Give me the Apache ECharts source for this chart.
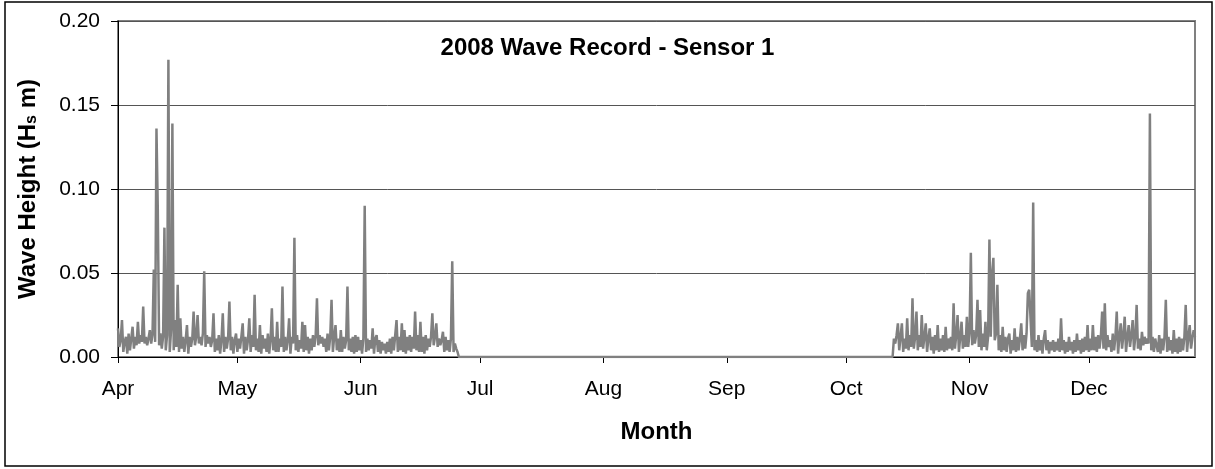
<!DOCTYPE html>
<html>
<head>
<meta charset="utf-8">
<script src="https://cdn.jsdelivr.net/npm/echarts@6/dist/echarts.min.js"></script>
<style>
html,body{margin:0;padding:0;background:#fff;}
#chart{width:1215px;height:469px;}
</style>
</head>
<body>
<div id="chart"></div>
<script>
// ---- data ----
const chartTitle = '2008 Wave Record - Sensor 1';
const monthNames = ['Jan','Feb','Mar','Apr','May','Jun','Jul','Aug','Sep','Oct','Nov','Dec'];
const yTicks = [0, 0.05, 0.10, 0.15, 0.20];
const axisStart = '2008-04-01T00:00:00';
const sampleStepHours = 8;

// Segment 1: samples every 8 h from 1 Apr 2008 (one row = 4 days)
const seg1Start = '2008-04-01T00:00:00';
const seg1Values = [
0.017,0.006,0.010,0.022,0.003,0.009,0.012,0.002,0.014,0.004,0.011,0.018,
0.005,0.012,0.007,0.021,0.008,0.013,0.009,0.030,0.008,0.012,0.007,0.011,
0.016,0.008,0.013,0.052,0.009,0.136,0.088,0.007,0.014,0.005,0.012,0.077,
0.004,0.013,0.177,0.003,0.016,0.139,0.004,0.022,0.006,0.043,0.003,0.023,
0.005,0.012,0.003,0.010,0.019,0.002,0.012,0.006,0.011,0.027,0.007,0.012,
0.025,0.008,0.012,0.007,0.014,0.051,0.006,0.013,0.008,0.012,0.006,0.010,
0.026,0.003,0.011,0.004,0.013,0.002,0.010,0.026,0.003,0.012,0.005,0.011,
0.033,0.004,0.012,0.002,0.010,0.014,0.003,0.011,0.005,0.012,0.020,0.002,
0.012,0.004,0.010,0.023,0.003,0.013,0.006,0.037,0.004,0.011,0.003,0.019,
0.002,0.013,0.005,0.011,0.003,0.014,0.002,0.010,0.029,0.004,0.012,0.003,
0.021,0.003,0.011,0.006,0.042,0.003,0.012,0.004,0.010,0.023,0.002,0.012,
0.008,0.071,0.004,0.013,0.003,0.010,0.005,0.021,0.003,0.019,0.004,0.012,
0.002,0.011,0.004,0.013,0.006,0.012,0.035,0.007,0.013,0.008,0.012,0.006,
0.011,0.003,0.014,0.004,0.012,0.034,0.003,0.012,0.019,0.004,0.011,0.003,
0.016,0.003,0.012,0.005,0.010,0.042,0.004,0.011,0.003,0.012,0.002,0.013,
0.003,0.012,0.004,0.010,0.002,0.011,0.090,0.003,0.011,0.004,0.010,0.005,
0.017,0.002,0.011,0.013,0.003,0.010,0.002,0.009,0.004,0.008,0.002,0.009,
0.003,0.011,0.002,0.012,0.004,0.013,0.022,0.003,0.012,0.004,0.020,0.003,
0.016,0.002,0.012,0.004,0.013,0.003,0.012,0.005,0.027,0.004,0.013,0.003,
0.021,0.003,0.012,0.002,0.013,0.004,0.011,0.006,0.012,0.026,0.007,0.012,
0.020,0.006,0.011,0.007,0.010,0.015,0.003,0.012,0.004,0.010,0.003,0.011,
0.057,0.003,0.008,0.005,0.003
];

// Sensor offline period (recorded as zero)
const gapTimes = ['2008-06-25T16:00:00', '2008-10-12T16:00:00'];
const gapValues = [0, 0];

// Segment 2: samples every 8 h from 13 Oct 2008 (one row = 4 days)
const seg2Start = '2008-10-13T00:00:00';
const seg2Values = [
0.011,0.008,0.013,0.020,0.004,0.012,0.020,0.003,0.011,0.005,0.023,0.004,
0.013,0.006,0.035,0.005,0.012,0.027,0.004,0.013,0.006,0.025,0.005,0.012,
0.020,0.003,0.011,0.017,0.004,0.012,0.002,0.013,0.004,0.019,0.003,0.011,
0.004,0.013,0.003,0.018,0.004,0.011,0.005,0.012,0.004,0.032,0.005,0.013,
0.025,0.003,0.012,0.021,0.005,0.013,0.006,0.024,0.006,0.014,0.062,0.007,
0.016,0.008,0.013,0.034,0.006,0.028,0.004,0.014,0.006,0.021,0.004,0.012,
0.070,0.012,0.050,0.059,0.010,0.014,0.043,0.004,0.013,0.003,0.018,0.004,
0.012,0.003,0.011,0.014,0.002,0.010,0.004,0.017,0.003,0.012,0.004,0.011,
0.020,0.004,0.013,0.005,0.014,0.038,0.040,0.039,0.006,0.092,0.004,0.010,
0.003,0.013,0.004,0.010,0.002,0.011,0.016,0.004,0.010,0.002,0.009,0.004,
0.010,0.003,0.009,0.004,0.011,0.003,0.023,0.004,0.010,0.002,0.009,0.003,
0.012,0.004,0.009,0.002,0.010,0.003,0.014,0.004,0.010,0.002,0.011,0.003,
0.012,0.004,0.019,0.003,0.011,0.004,0.019,0.004,0.012,0.003,0.013,0.005,
0.012,0.027,0.005,0.032,0.004,0.013,0.006,0.010,0.003,0.014,0.004,0.012,
0.027,0.002,0.012,0.020,0.005,0.013,0.024,0.003,0.012,0.019,0.006,0.013,
0.022,0.004,0.012,0.031,0.005,0.011,0.004,0.015,0.007,0.012,0.008,0.011,
0.008,0.145,0.004,0.012,0.003,0.011,0.010,0.003,0.013,0.002,0.011,0.004,
0.012,0.034,0.003,0.012,0.004,0.010,0.002,0.016,0.003,0.011,0.002,0.012,
0.003,0.011,0.004,0.012,0.031,0.003,0.012,0.019,0.005,0.011,0.016,0.012
];

// ---- build series points ----
const stepMs = sampleStepHours * 3600 * 1000;
function toPoints(startStr, values) {
  const t0 = new Date(startStr).getTime();
  return values.map((v, i) => [t0 + i * stepMs, v]);
}
const points = []
  .concat(toPoints(seg1Start, seg1Values))
  .concat(gapTimes.map((t, i) => [new Date(t).getTime(), gapValues[i]]))
  .concat(toPoints(seg2Start, seg2Values));
const axisMin = new Date(axisStart).getTime();
const axisMax = points[points.length - 1][0];

const FONT = '"Liberation Sans", Arial, sans-serif';
const chart = echarts.init(document.getElementById('chart'), null, {renderer: 'canvas'});
chart.setOption({
  animation: false,
  backgroundColor: '#ffffff',
  title: {
    text: chartTitle,
    left: 'center',
    top: 31,
    textStyle: {fontFamily: FONT, fontSize: 24, fontWeight: 'bold', color: '#000'}
  },
  graphic: [{
    type: 'rect',
    shape: {x: 5, y: 2, width: 1207, height: 464},
    style: {fill: 'none', stroke: '#000', lineWidth: 1.5},
    silent: true, z: -1
  }],
  grid: {
    left: 118, right: 20, top: 21, bottom: 112,
    show: true, borderColor: '#808080', borderWidth: 2, backgroundColor: '#fff'
  },
  xAxis: {
    type: 'time',
    min: axisMin,
    max: axisMax,
    splitNumber: 9,
    name: 'Month',
    nameLocation: 'middle',
    nameGap: 63,
    nameTextStyle: {fontFamily: FONT, fontSize: 24, fontWeight: 'bold', color: '#000'},
    axisLine: {lineStyle: {color: '#000', width: 1}},
    axisTick: {show: true, inside: false, length: 6, lineStyle: {color: '#000'}},
    axisLabel: {
      margin: 22,
      fontFamily: FONT, fontSize: 21, color: '#000',
      showMaxLabel: false,
      hideOverlap: false,
      formatter: function (value) { return monthNames[new Date(value).getMonth()]; }
    },
    splitLine: {show: false}
  },
  yAxis: {
    type: 'value',
    min: yTicks[0],
    max: yTicks[yTicks.length - 1],
    interval: yTicks[1] - yTicks[0],
    name: '{b|Wave Height (H}{s|s}{b| m)}',
    nameLocation: 'middle',
    nameRotate: 90,
    nameGap: 78,
    nameTextStyle: {
      rich: {
        b: {fontFamily: FONT, fontSize: 24, fontWeight: 'bold', color: '#000'},
        s: {fontFamily: FONT, fontSize: 16, fontWeight: 'bold', color: '#000', verticalAlign: 'bottom', padding: [8, 0, 0, 0]}
      }
    },
    axisLine: {show: true, lineStyle: {color: '#000', width: 1}},
    axisTick: {show: true, inside: false, length: 7, lineStyle: {color: '#000'}},
    axisLabel: {
      margin: 18,
      fontFamily: FONT, fontSize: 21, color: '#000',
      formatter: function (v) { return v.toFixed(2); }
    },
    splitLine: {show: true, lineStyle: {color: '#555', width: 1}}
  },
  series: [{
    type: 'line',
    data: points,
    showSymbol: false,
    symbol: 'none',
    sampling: null,
    lineStyle: {color: '#808080', width: 2.5},
    itemStyle: {color: '#808080'},
    z: 3
  }]
});
</script>
</body>
</html>
